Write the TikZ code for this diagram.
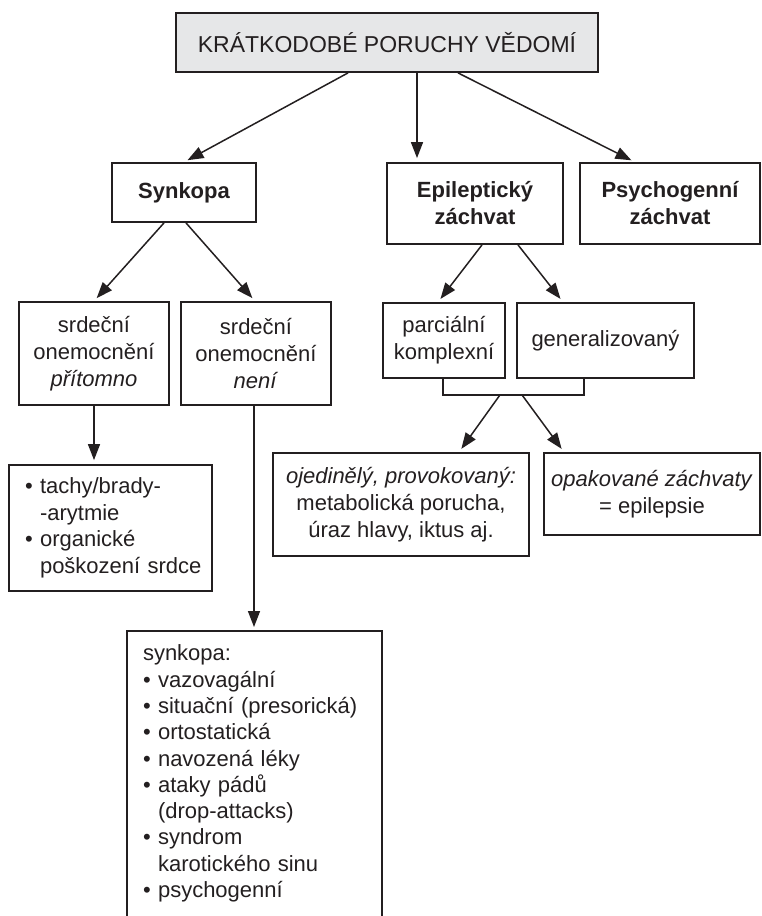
\documentclass[tikz,border=0pt]{standalone}
\usepackage{fontspec}
\setmainfont{Liberation Sans}
\usetikzlibrary{arrows.meta}
\definecolor{ink}{HTML}{231F20}
\definecolor{titlegray}{HTML}{E6E7E8}
\newcommand\bulind{\hphantom{•\ }}
\hfuzz=20pt
\begin{document}
\begin{tikzpicture}[x=1pt,y=-1pt,
  box/.style={draw=ink, line width=1.8pt, inner sep=0pt, align=center,
    font=\fontsize{22}{27}\selectfont, text=ink},
  boldbox/.style={box, font=\fontsize{22}{27}\selectfont\bfseries},
  listbox/.style={box, align=left, font=\fontsize{22}{26.5}\selectfont},
  boxline/.style={draw=ink, line width=1.8pt},
  conn/.style={draw=ink, line width=1.5pt},
  arr/.style={conn, -{Triangle[length=16pt,width=12pt]}, shorten >=4pt},
]
\useasboundingbox (0,0) rectangle (762,916);
\clip (0,0) rectangle (762,916);

% nodes
\node[box, fill=titlegray, minimum width=422pt, minimum height=59pt,
      font=\fontsize{23}{27}\selectfont] (title) at (387,42.5) {KRÁTKODOBÉ PORUCHY VĚDOMÍ};
\node[boldbox, minimum width=144pt, minimum height=59pt] (synk) at (184,192.5) {Synkopa};
\node[boldbox, minimum width=176pt, minimum height=81pt] (epi) at (475,203.5) {Epileptický\\záchvat};
\node[boldbox, minimum width=180pt, minimum height=81pt] (psy) at (670,203.5) {Psychogenní\\záchvat};

\node[box, minimum width=150pt, minimum height=103pt] (srdA) at (94,353.5) {srdeční\\onemocnění\\\textit{přítomno}};
\node[box, minimum width=150pt, minimum height=103pt] (srdB) at (256,353.5) {srdeční\\onemocnění\\\textit{není}};

\node[box, minimum width=122pt, minimum height=75pt] (parc) at (444,340.5) {parciální\\komplexní};
\node[box, minimum width=177pt, minimum height=75pt] (gen) at (605.5,340.5) {generalizovaný};

\node[listbox, minimum width=203pt, minimum height=126pt, text width=171pt, inner xsep=16pt]
  (heart) at (110.5,528) {• tachy/brady-\\\bulind-arytmie\\• organické\\\bulind\mbox{poškození srdce}};

\node[box, minimum width=256pt, minimum height=103pt] (ojed) at (401,504.5)
  {\textit{ojedinělý, provokovaný:}\\metabolická porucha,\\úraz hlavy, iktus aj.};
\node[box, minimum width=216pt, minimum height=82pt] (opak) at (652,494)
  {\textit{opakované záchvaty}\\= epilepsie};

\node[listbox, draw=none, anchor=north, text width=223pt, inner xsep=15pt, inner ysep=13pt,
      font=\fontsize{22}{26.3}\selectfont]
  (synl) at (254.5,631) {synkopa:\\• vazovagální\\• situační (presorická)\\• ortostatická\\• navozená léky\\• ataky pádů\\\bulind(drop-attacks)\\• syndrom\\\bulind karotického sinu\\• psychogenní};
\draw[boxline] ([yshift=-20pt]synl.south west) -- (synl.north west) -- (synl.north east) -- ([yshift=-20pt]synl.south east);

% connectors
\draw[arr] ([xshift=-39pt]title.south) -- (synk.north);
\draw[arr] ([xshift=30pt]title.south) -- ([xshift=-58pt]epi.north);
\draw[arr] ([xshift=71pt]title.south) -- ([xshift=-35pt]psy.north);

\draw[arr] ([xshift=-20pt]synk.south) -- (srdA.north);
\draw[arr] ([xshift=2pt]synk.south) -- ([xshift=-1pt]srdB.north);

\draw[arr] ([xshift=7pt]epi.south) -- ([xshift=-6pt]parc.north);
\draw[arr] ([xshift=43pt]epi.south) -- ([xshift=-42.5pt]gen.north);

\draw[arr] (srdA.south) -- (srdA.south |- heart.north);
\draw[arr] ([xshift=-2pt]srdB.south) -- ([xshift=-2pt]srdB.south |- synl.north);

\coordinate (brL) at ([xshift=-1pt,yshift=-16pt]parc.south);
\coordinate (brR) at ([xshift=-21.5pt,yshift=-16pt]gen.south);
\draw[conn] ([xshift=-1pt]parc.south) -- (brL) -- (brR) -- ([xshift=-21.5pt]gen.south);
\coordinate (fA) at ([xshift=57pt]brL);
\coordinate (fB) at ([xshift=79pt]brL);
\draw[arr] (fA) -- ([xshift=58pt]ojed.north);
\draw[arr] (fB) -- ([xshift=-88pt]opak.north);
\end{tikzpicture}
\end{document}
